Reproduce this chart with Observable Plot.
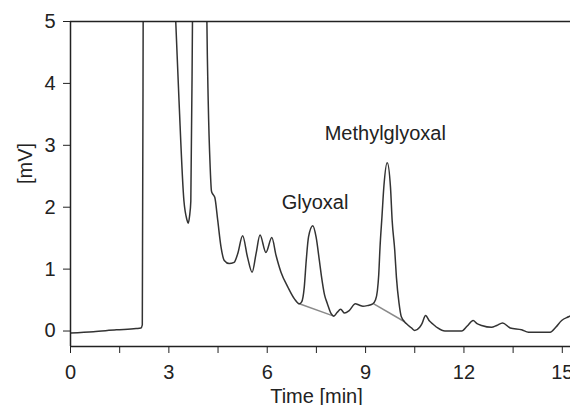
<!DOCTYPE html>
<html>
<head>
<meta charset="utf-8">
<script src="https://cdn.jsdelivr.net/npm/d3@7"></script>
<script src="https://cdn.jsdelivr.net/npm/@observablehq/plot@0.6"></script>
<style>
  html, body { margin: 0; padding: 0; background: #fff; }
  #chart svg { display: block; }
</style>
</head>
<body>
<div id="chart"></div>
<script>
// Chromatogram trace (time in min, signal in mV); values above 5 lie off-chart
const time = [0, 0.7, 1.4, 2.0, 2.15, 2.19, 2.22, 2.3, 2.8, 3.12, 3.21, 3.31, 3.46, 3.55, 3.59, 3.63, 3.67, 3.72, 3.76, 3.95, 4.13, 4.16, 4.20, 4.26, 4.30, 4.33, 4.40, 4.49, 4.59, 4.69, 4.84, 4.99, 5.10, 5.25, 5.40, 5.54, 5.66, 5.78, 5.96, 6.14, 6.27, 6.42, 6.63, 6.83, 6.98, 7.05, 7.13, 7.19, 7.26, 7.39, 7.49, 7.59, 7.65, 7.75, 7.83, 7.95, 8.03, 8.13, 8.24, 8.36, 8.50, 8.69, 8.80, 8.92, 9.05, 9.22, 9.30, 9.36, 9.40, 9.44, 9.50, 9.56, 9.66, 9.76, 9.81, 9.89, 9.94, 10.02, 10.09, 10.24, 10.40, 10.50, 10.65, 10.72, 10.83, 10.95, 11.06, 11.20, 11.42, 11.93, 12.10, 12.28, 12.40, 12.54, 12.84, 13.00, 13.18, 13.41, 13.76, 13.97, 14.63, 14.80, 14.98, 15.19, 15.27];
const signal = [-0.03, -0.01, 0.02, 0.04, 0.05, 0.1, 6, 30, 40, 6.1, 5.0, 3.72, 2.1, 1.8, 1.74, 1.85, 2.1, 5.0, 8, 30, 7, 5.0, 3.72, 2.65, 2.26, 2.22, 2.16, 1.79, 1.36, 1.14, 1.09, 1.11, 1.25, 1.54, 1.19, 0.95, 1.25, 1.55, 1.27, 1.51, 1.22, 0.95, 0.71, 0.52, 0.44, 0.47, 0.71, 1.14, 1.52, 1.70, 1.52, 1.14, 0.90, 0.58, 0.45, 0.28, 0.24, 0.30, 0.35, 0.29, 0.33, 0.44, 0.42, 0.40, 0.41, 0.44, 0.50, 0.65, 0.90, 1.35, 1.85, 2.35, 2.72, 2.32, 1.79, 1.30, 0.87, 0.45, 0.23, 0.12, 0.05, 0.01, 0.06, 0.12, 0.25, 0.16, 0.11, 0.05, 0.0, 0.0, 0.08, 0.17, 0.12, 0.09, 0.06, 0.09, 0.13, 0.05, 0.02, -0.02, -0.02, 0.06, 0.17, 0.23, 0.25];

// Integration baselines under the two peaks
const baseStartX = [6.98, 9.25];
const baseStartY = [0.44, 0.44];
const baseEndX = [8.03, 10.19];
const baseEndY = [0.24, 0.15];

// Peak annotations
const peakNames = ["Glyoxal", "Methylglyoxal"];
const peakLabelX = [7.46, 9.6];
const peakLabelY = [2.08, 3.19];

// Axes
const xTicksMajor = [0, 3, 6, 9, 12, 15];
const xTicksMinor = [1.5, 4.5, 7.5, 10.5, 13.5];
const yTicks = [0, 1, 2, 3, 4, 5];
const xLabel = "Time [min]";
const yLabel = "[mV]";

const trace = time.map((t, i) => ({t, v: signal[i]}));
const baselines = baseStartX.map((x, i) => ({x1: x, y1: baseStartY[i], x2: baseEndX[i], y2: baseEndY[i]}));
const labels = peakNames.map((n, i) => ({name: n, x: peakLabelX[i], y: peakLabelY[i]}));

const ink = "#222";
const fs = 20;
const chart = Plot.plot({
  width: 570,
  height: 405,
  marginLeft: 70,
  marginRight: 0,
  marginTop: 21,
  marginBottom: 59,
  style: {fontFamily: "'Liberation Sans', Arial, sans-serif", fontSize: fs + "px", color: ink, background: "#fff"},
  x: {domain: [0, 15.25]},
  y: {domain: [-0.25, 5]},
  marks: [
    Plot.link(baselines, {x1: "x1", y1: "y1", x2: "x2", y2: "y2", stroke: "#8a8a8a", strokeWidth: 1.5}),
    Plot.line(trace, {x: "t", y: "v", stroke: "#333", strokeWidth: 1.5, curve: "monotone-x", clip: true}),
    Plot.text(labels, {x: "x", y: "y", text: "name", fontSize: fs, fill: ink}),
    Plot.ruleY([5], {stroke: ink, strokeWidth: 1.5}),
    Plot.ruleY([-0.25], {stroke: ink, strokeWidth: 1.5}),
    Plot.ruleX([0], {stroke: ink, strokeWidth: 1.5}),
    Plot.axisX({ticks: xTicksMajor, tickSize: 7, tickPadding: 11, tickFormat: d => String(d), label: null, stroke: ink, fontSize: fs}),
    Plot.axisX({ticks: xTicksMinor, tickSize: 7, tickFormat: () => "", label: null, stroke: ink}),
    Plot.axisY({ticks: yTicks, tickSize: 7, tickPadding: 8, tickFormat: d => String(d), label: null, stroke: ink, fontSize: fs}),
    Plot.text([yLabel], {frameAnchor: "left", dx: -45, rotate: -90, fontSize: fs, fill: ink}),
    Plot.text([xLabel], {frameAnchor: "bottom", dy: 56, dx: -4, fontSize: fs, fill: ink})
  ]
});
document.getElementById("chart").appendChild(chart);
</script>
</body>
</html>
